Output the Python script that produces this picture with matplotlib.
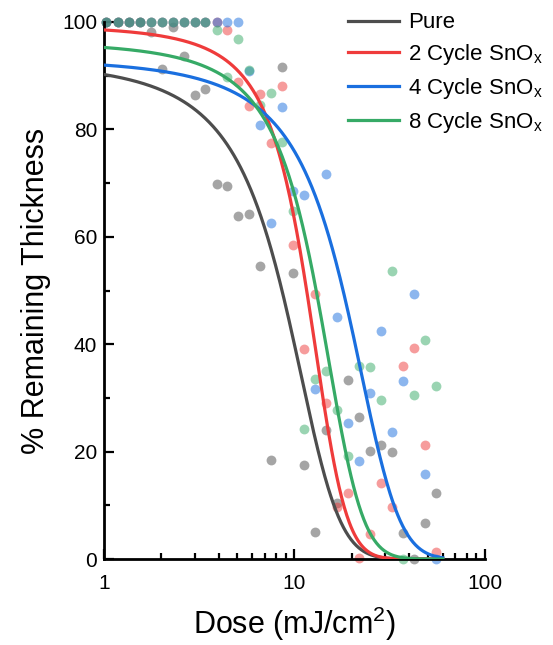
import numpy as np
import matplotlib.pyplot as plt
from matplotlib.ticker import LogLocator, MultipleLocator, NullFormatter, FixedLocator

plt.rcParams['font.family'] = ['Liberation Sans', 'DejaVu Sans']
plt.rcParams['mathtext.default'] = 'regular'

# dose values (mJ/cm^2)
dose = [1.03, 1.18, 1.35, 1.54, 1.76, 2.01, 2.29, 2.62, 2.99, 3.41,
        3.90, 4.45, 5.08, 5.80, 6.62, 7.56, 8.63, 9.86, 11.26, 12.86,
        14.68, 16.77, 19.15, 21.87, 24.97, 28.52, 32.56, 37.19, 42.46, 48.49,
        55.37]

# % remaining thickness per sample
pure = [100, 100, 100, 100, 98.2, 91.2, 99.1, 93.7, 86.4, 87.5,
        69.8, 69.5, 63.9, 64.2, 54.6, 18.5, 91.7, 53.3, 17.5, 5.0,
        24.1, 10.4, 33.3, 26.4, 20.2, 21.2, 20.0, 4.8, 0.0, 6.8,
        12.3]
cycle2 = [100, 100, 100, 100, 100, 100, 100, 100, 100, 100,
          100, 98.6, 88.9, 84.4, 86.6, 77.5, 88.1, 58.5, 39.1, 49.3,
          29.1, 9.6, 12.3, 0.1, 4.6, 14.2, 9.6, 36.0, 39.3, 21.2,
          1.3]
cycle4 = [100, 100, 100, 100, 100, 100, 100, 100, 100, 100,
          100, 100, 100, 90.9, 80.8, 62.6, 84.1, 68.6, 67.8, 31.6,
          71.7, 45.0, 25.3, 18.2, 31.0, 42.5, 23.6, 33.1, 49.3, 15.9,
          0.0]
cycle8 = [100, 100, 100, 100, 100, 100, 100, 100, 100, 100,
          98.6, 89.8, 96.8, 91.0, 84.5, 86.7, 77.7, 64.8, 24.3, 33.5,
          35.1, 27.7, 19.2, 35.9, 35.8, 29.7, 53.6, 0.0, 30.5, 40.8,
          32.2]

labels = ['Pure', '2 Cycle SnO$_x$', '4 Cycle SnO$_x$', '8 Cycle SnO$_x$']
colors = ['#4d4d4d', '#ef3b3b', '#1a6fdf', '#36aa66']

# sigmoidal (Boltzmann) fit parameters
fit_top = [100, 101.5, 100, 100]
fit_x0 = [8.6, 11.5, 18.0, 13.0]
fit_dx = [3.42, 3.0, 6.97, 4.0]


def boltzmann(x, top, x0, dx):
    return top / (1 + np.exp((x - x0) / dx))


fig = plt.figure(figsize=(5.53, 6.45), dpi=100)
ax = fig.add_axes([0.188, 0.1333, 0.689, 0.8326])

series = [pure, cycle2, cycle4, cycle8]
for ys, c in zip(series, colors):
    ax.scatter(dose, ys, s=50, color=c, alpha=0.5, linewidths=0,
               clip_on=False, zorder=2)

xfit = np.logspace(0, np.log10(60), 400)
for i, c in enumerate(colors):
    ax.plot(xfit, boltzmann(xfit, fit_top[i], fit_x0[i], fit_dx[i]),
            color=c, lw=2.3, label=labels[i], zorder=3)

ax.set_xscale('log')
ax.set_xlim(1, 100)
ax.set_ylim(0, 100)

for side in ['top', 'right']:
    ax.spines[side].set_visible(False)
for side in ['left', 'bottom']:
    ax.spines[side].set_linewidth(2.0)

ax.xaxis.set_major_locator(FixedLocator([1, 10, 100]))
ax.set_xticklabels(['1', '10', '100'])
ax.xaxis.set_minor_locator(LogLocator(base=10, subs=np.arange(2, 10)))
ax.xaxis.set_minor_formatter(NullFormatter())
ax.yaxis.set_major_locator(MultipleLocator(20))
ax.yaxis.set_minor_locator(MultipleLocator(10))

ax.tick_params(which='both', direction='in', width=1.6, labelsize=15)
ax.tick_params(which='major', length=7)
ax.tick_params(which='minor', length=4)
ax.tick_params(axis='x', pad=11)
ax.tick_params(axis='y', pad=5)

ax.set_xlabel('Dose (mJ/cm$^2$)', fontsize=22, labelpad=8)
ax.set_ylabel('% Remaining Thickness', fontsize=22, labelpad=8)

ax.legend(loc='upper left', bbox_to_anchor=(0.64, 1.018), frameon=False,
          fontsize=16, handlelength=2.3, handletextpad=0.4,
          borderpad=0, borderaxespad=0, labelspacing=0.4)

fig.savefig('out.png', dpi=100)
